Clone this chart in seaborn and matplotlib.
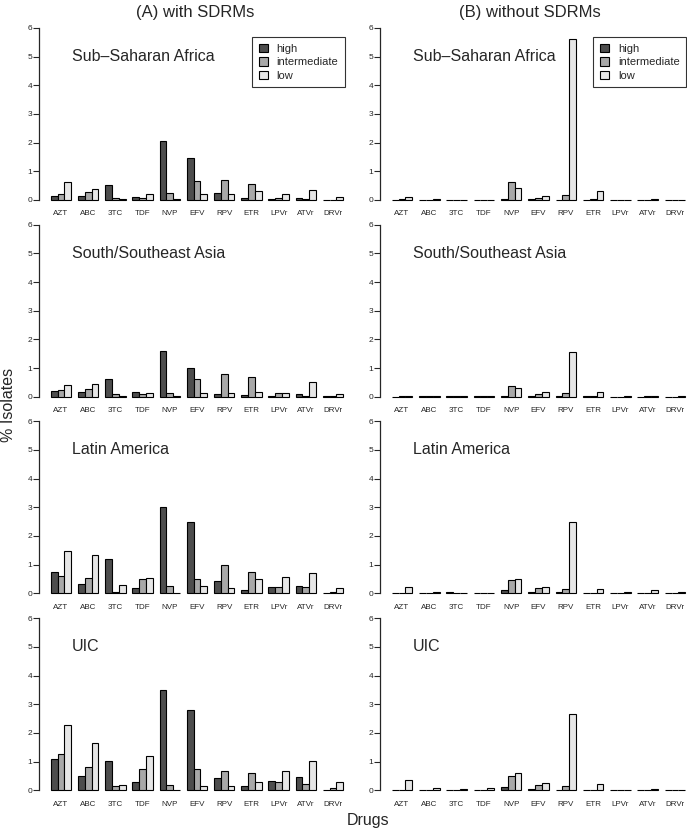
import numpy as np
import pandas as pd
import matplotlib
matplotlib.use("Agg")
import matplotlib.pyplot as plt
from matplotlib.patches import Patch
import seaborn as sns

# ── Data (% isolates) ─────────────────────────────────────────────────────────
drugs   = ["AZT", "ABC", "3TC", "TDF", "NVP", "EFV", "RPV", "ETR", "LPVr", "ATVr", "DRVr"]
levels  = ["high", "intermediate", "low"]
regions = ["Sub\u2013Saharan Africa", "South/Southeast Asia", "Latin America", "UIC"]

# each panel: [high, intermediate, low]
ssa_with = [
    [0.15, 0.14, 0.52, 0.12, 2.05, 1.47, 0.23, 0.07, 0.02, 0.07, 0.01],
    [0.20, 0.29, 0.06, 0.08, 0.23, 0.65, 0.69, 0.57, 0.08, 0.03, 0.01],
    [0.64, 0.37, 0.03, 0.20, 0.03, 0.20, 0.20, 0.31, 0.21, 0.36, 0.09],
]
ssa_without = [
    [0.00, 0.01, 0.01, 0.01, 0.03, 0.02, 0.01, 0.00, 0.00, 0.00, 0.00],
    [0.02, 0.01, 0.01, 0.01, 0.62, 0.06, 0.17, 0.02, 0.00, 0.01, 0.00],
    [0.10, 0.03, 0.01, 0.01, 0.42, 0.15, 5.60, 0.32, 0.01, 0.02, 0.01],
]
asia_with = [
    [0.20, 0.16, 0.60, 0.16, 1.59, 1.00, 0.09, 0.07, 0.02, 0.08, 0.01],
    [0.22, 0.26, 0.09, 0.08, 0.12, 0.60, 0.79, 0.70, 0.13, 0.02, 0.01],
    [0.42, 0.46, 0.02, 0.13, 0.02, 0.12, 0.12, 0.16, 0.13, 0.53, 0.10],
]
asia_without = [
    [0.00, 0.01, 0.01, 0.01, 0.02, 0.01, 0.01, 0.01, 0.00, 0.00, 0.00],
    [0.01, 0.01, 0.01, 0.01, 0.37, 0.10, 0.14, 0.03, 0.00, 0.01, 0.00],
    [0.03, 0.03, 0.03, 0.04, 0.30, 0.16, 1.55, 0.16, 0.01, 0.02, 0.01],
]
latam_with = [
    [0.73, 0.33, 1.19, 0.20, 3.01, 2.50, 0.42, 0.10, 0.23, 0.27, 0.01],
    [0.60, 0.52, 0.05, 0.50, 0.26, 0.50, 1.00, 0.75, 0.23, 0.23, 0.05],
    [1.46, 1.33, 0.28, 0.55, 0.01, 0.25, 0.19, 0.51, 0.58, 0.70, 0.19],
]
latam_without = [
    [0.00, 0.00, 0.04, 0.00, 0.12, 0.05, 0.03, 0.00, 0.00, 0.00, 0.00],
    [0.02, 0.00, 0.01, 0.00, 0.48, 0.20, 0.16, 0.01, 0.00, 0.01, 0.00],
    [0.21, 0.05, 0.00, 0.02, 0.50, 0.21, 2.48, 0.14, 0.04, 0.10, 0.04],
]
uic_with = [
    [1.10, 0.49, 1.03, 0.30, 3.51, 2.80, 0.42, 0.15, 0.32, 0.46, 0.02],
    [1.26, 0.81, 0.16, 0.74, 0.19, 0.76, 0.69, 0.60, 0.28, 0.23, 0.08],
    [2.29, 1.65, 0.20, 1.20, 0.02, 0.15, 0.14, 0.29, 0.67, 1.02, 0.30],
]
uic_without = [
    [0.00, 0.00, 0.00, 0.00, 0.12, 0.03, 0.01, 0.00, 0.00, 0.00, 0.00],
    [0.02, 0.00, 0.00, 0.00, 0.50, 0.19, 0.15, 0.02, 0.01, 0.01, 0.00],
    [0.35, 0.07, 0.04, 0.07, 0.62, 0.26, 2.67, 0.22, 0.01, 0.03, 0.02],
]

panels = [
    (ssa_with, ssa_without),
    (asia_with, asia_without),
    (latam_with, latam_without),
    (uic_with, uic_without),
]

colors = ["#4d4d4d", "#a8a8a8", "#e6e6e6"]

# ── Style ─────────────────────────────────────────────────────────────────────
sns.set_style("white")
plt.rcParams["font.family"] = ["Liberation Sans", "DejaVu Sans"]

W, H = 687, 830
fig = plt.figure(figsize=(W / 100, H / 100), dpi=100)

px_unit = 28.67          # pixels per % unit
zero_rows = [200, 396.7, 593.3, 790.3]
col_left = [39, 380]
col_width = [316, 317]


def to_long(vals):
    return pd.DataFrame({
        "drug":  drugs * 3,
        "level": np.repeat(levels, len(drugs)),
        "pct":   np.concatenate(vals),
    })


for r, (region, pair) in enumerate(zip(regions, panels)):
    z = zero_rows[r]
    bottom_px = z + 0.24 * px_unit
    height_px = 6.48 * px_unit
    for c, vals in enumerate(pair):
        ax = fig.add_axes([col_left[c] / W, 1 - bottom_px / H,
                           col_width[c] / W, height_px / H])
        sns.barplot(data=to_long(vals), x="drug", y="pct", hue="level",
                    order=drugs, hue_order=levels, palette=colors,
                    width=0.75, gap=0, errorbar=None, saturation=1,
                    edgecolor="black", linewidth=0.8, legend=False, ax=ax)
        ax.set_xlim(-0.805, 10.805)
        ax.set_ylim(-0.24, 6.24)
        ax.set_xlabel("")
        ax.set_ylabel("")
        ax.set_yticks(range(7))
        for s in ["top", "right", "bottom"]:
            ax.spines[s].set_visible(False)
        ax.spines["left"].set_bounds(0, 6)
        ax.spines["left"].set_linewidth(0.9)
        ax.tick_params(axis="y", length=4, width=0.8, pad=1,
                       labelsize=6, left=True, direction="out")
        ax.tick_params(axis="x", length=0, pad=2.5, labelsize=5.8)
        ax.patch.set_alpha(0)

        ax.text(0.4, 5.0, region, fontsize=11.5, ha="left", va="center")

        if r == 0:
            handles = [Patch(facecolor=col, edgecolor="black", linewidth=0.8)
                       for col in colors]
            anchor_x = 0.968 if c == 0 else 0.966
            leg = ax.legend(handles, levels, loc="upper right",
                            bbox_to_anchor=(anchor_x, 0.914), fontsize=8,
                            frameon=True, fancybox=False, edgecolor="black",
                            handlelength=0.8, handleheight=0.8,
                            handletextpad=0.8, labelspacing=0.3,
                            borderpad=0.6, borderaxespad=0)
            leg.get_frame().set_linewidth(0.8)

fig.text(195 / W, 1 - 12 / H, "(A) with SDRMs", fontsize=12,
         ha="center", va="center")
fig.text(530 / W, 1 - 12 / H, "(B) without SDRMs", fontsize=12,
         ha="center", va="center")
fig.text(9 / W, 1 - 405 / H, "% Isolates", fontsize=11.5, rotation=90,
         ha="center", va="center")
fig.text(368 / W, 1 - 820 / H, "Drugs", fontsize=11.5, ha="center", va="center")

fig.savefig("out.png", dpi=100)
